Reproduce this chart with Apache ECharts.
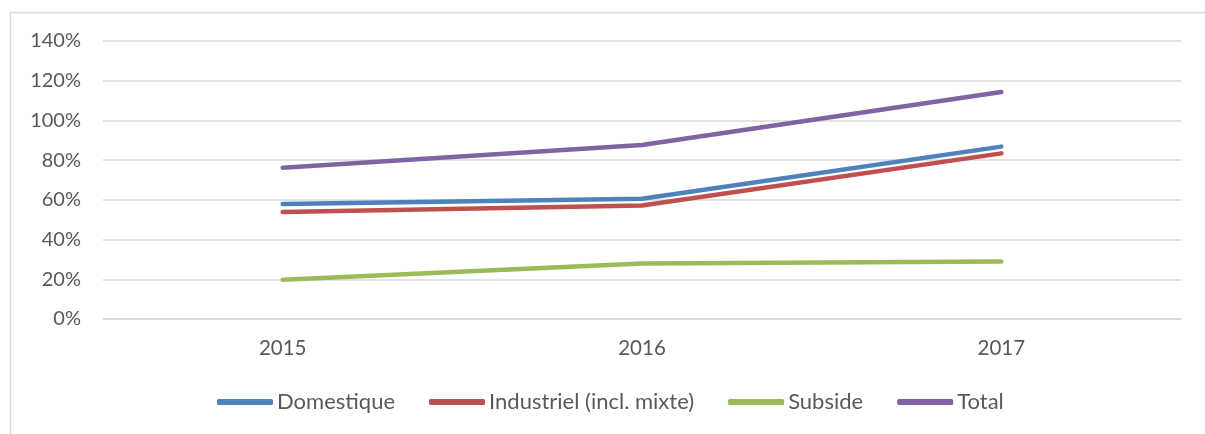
<!DOCTYPE html>
<html>
<head>
<meta charset="utf-8">
<script src="https://cdn.jsdelivr.net/npm/echarts@6/dist/echarts.min.js"></script>
<style>
  html, body { margin: 0; padding: 0; background: #ffffff; }
  #chart { width: 1205px; height: 434px; }
</style>
</head>
<body>
<div id="chart"></div>
<script>
// Years on the category axis
const years = ['2015', '2016', '2017'];

// Growth per consumer type, in percent
const domestique = [57.9, 60.6, 86.8];
const industriel = [53.9, 57.2, 83.4];
const subside = [19.8, 28.0, 28.9];
const total = [76.2, 87.6, 114.3];

const seriesNames = ['Domestique', 'Industriel (incl. mixte)', 'Subside', 'Total'];
const seriesColors = ['#4F81BD', '#C0504D', '#9BBB59', '#8064A2'];
const seriesData = [domestique, industriel, subside, total];

const chart = echarts.init(document.getElementById('chart'));
const textColor = '#595959';
const fontFamily = 'Lato, "Open Sans", sans-serif';

chart.setOption({
  animation: false,
  backgroundColor: '#ffffff',
  graphic: [{
    type: 'rect',
    shape: { x: 10.5, y: 12.5, width: 1200, height: 430 },
    style: { fill: 'none', stroke: '#d9d9d9', lineWidth: 1.5 },
    silent: true
  }],
  grid: { left: 103, right: 24, top: 41, bottom: 115 },
  legend: {
    top: 391,
    left: 217,
    padding: 0,
    itemWidth: 56,
    itemHeight: 6,
    itemGap: 34,
    icon: 'roundRect',
    textStyle: { color: textColor, fontSize: 22, fontFamily: fontFamily, padding: [0, 0, 0, -1] },
    data: seriesNames
  },
  xAxis: {
    type: 'category',
    data: years,
    boundaryGap: true,
    axisLine: { show: true, lineStyle: { color: '#d9d9d9', width: 1.5 } },
    axisTick: { show: false },
    axisLabel: { color: textColor, fontSize: 20.5, fontFamily: fontFamily, margin: 19 }
  },
  yAxis: {
    type: 'value',
    min: 0,
    max: 140,
    interval: 20,
    axisLine: { show: false },
    axisTick: { show: false },
    splitLine: { lineStyle: { color: '#d9d9d9', width: 1.5 } },
    axisLabel: { color: textColor, fontSize: 20, fontFamily: fontFamily, margin: 22, formatter: '{value}%' }
  },
  series: seriesData.map((d, i) => ({
    name: seriesNames[i],
    type: 'line',
    data: d,
    symbol: 'none',
    color: seriesColors[i],
    lineStyle: { width: 4.5, cap: 'round', join: 'round' }
  }))
});
</script>
</body>
</html>
